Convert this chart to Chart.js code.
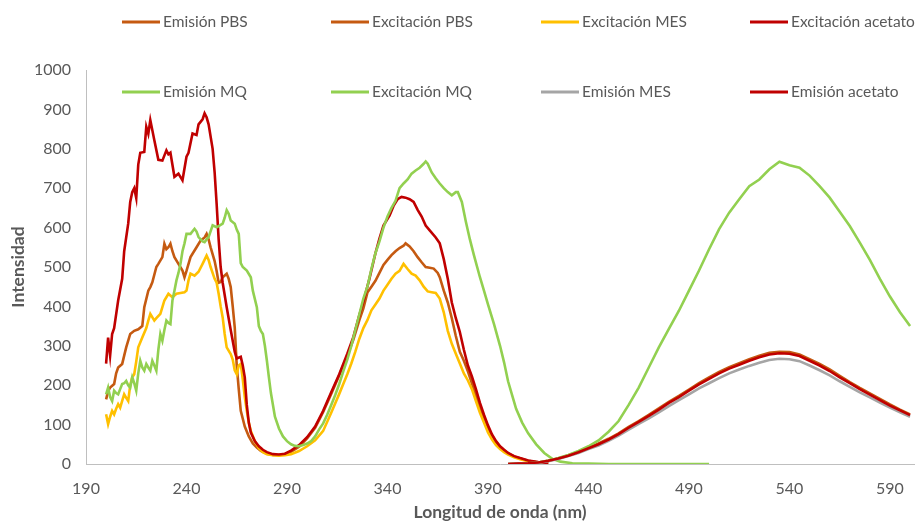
<!DOCTYPE html>
<html><head><meta charset="utf-8">
<script src="https://cdn.jsdelivr.net/npm/chart.js@4.4.0/dist/chart.umd.min.js"></script>
<style>html,body{margin:0;padding:0;background:#fff;}</style>
</head><body>
<canvas id="c" width="919" height="522"></canvas>
<script>
// ---- tick labels ----
const xTicks = [190, 240, 290, 340, 390, 440, 490, 540, 590];

// ---- series names ----
const seriesNames = ['Emisión PBS','Excitación PBS','Excitación MES','Excitación acetato','Emisión MQ','Excitación MQ','Emisión MES','Emisión acetato'];

// ---- excitation spectra [nm, intensity] ----
const excPBS = [[200,164],[201,185],[202,194],[204,203],[205,230],[206,245],[208,254],[209,275],[210,296],[212,330],[214,338],[216,342],[218,350],[219,398],[221,440],[222,449],[223,461],[225,500],[226,508],[228,525],[229,559],[230,545],[231,550],[232,559],[233,540],[234,525],[236,508],[238,491],[239,474],[240,490],[242,525],[245,550],[247,567],[249,575],[250,584],[251,570],[252,550],[254,515],[255,490],[256,460],[257,462],[258,474],[260,483],[261,470],[262,449],[263,400],[264,347],[265,250],[266,190],[267,135],[269,95],[271,70],[273,52],[275,42],[277,33],[280,26],[283,23],[286,23],[289,25],[292,31],[296,44],[300,65],[304,92],[308,132],[312,178],[316,225],[320,275],[323,315],[326,365],[328,395],[330,435],[332,450],[334,465],[336,485],[338,505],[340,518],[342,530],[344,540],[346,548],[348,554],[349,560],[351,552],[353,540],[355,525],[357,512],[359,500],[361,498],[363,496],[365,485],[366,474],[368,440],[370,410],[372,370],[374,325],[376,285],[378,262],[380,235],[382,205],[384,172],[386,142],[388,115],[390,92],[392,72],[394,56],[396,44],[398,35],[400,27],[403,19],[406,14],[410,8],[415,4],[420,2]];

const excMES = [[200,126],[201,101],[202,120],[203,135],[204,126],[205,140],[206,152],[207,143],[208,160],[209,177],[210,168],[211,160],[212,200],[213,220],[214,228],[215,260],[216,296],[218,321],[220,345],[221,364],[222,381],[224,364],[225,370],[227,381],[229,415],[231,432],[233,423],[235,432],[237,434],[239,436],[240,440],[241,466],[242,483],[244,478],[246,488],[248,508],[250,529],[251,518],[252,500],[254,470],[255,460],[256,432],[257,400],[258,372],[259,330],[260,296],[262,279],[263,265],[264,238],[265,228],[266,250],[267,254],[268,215],[269,170],[270,135],[271,105],[272,84],[274,58],[276,40],[278,30],[280,25],[283,22],[286,21],[289,22],[292,25],[296,33],[300,45],[304,60],[308,84],[312,130],[316,178],[318,203],[320,228],[322,255],[324,285],[326,318],[328,345],[330,365],[332,390],[334,405],[336,420],[338,440],[340,455],[342,470],[344,483],[346,490],[348,508],[350,495],[352,483],[354,478],[356,466],[358,450],[360,438],[362,436],[364,434],[366,420],[368,385],[370,338],[372,305],[374,280],[376,255],[378,230],[380,212],[382,190],[384,160],[386,130],[388,105],[390,80],[392,62],[394,48],[396,38],[398,30],[400,24],[403,17],[406,12],[410,7],[415,4],[420,2]];

const excAcetato = [[200,255],[201,321],[202,275],[203,330],[204,345],[206,415],[208,470],[209,540],[211,610],[212,665],[213,690],[214,700],[215,675],[216,760],[217,790],[219,792],[220,856],[221,838],[222,873],[224,822],[226,772],[228,770],[230,796],[231,786],[232,790],[234,729],[236,737],[238,720],[240,780],[241,790],[243,839],[245,835],[246,862],[248,875],[249,890],[250,880],[251,862],[253,800],[254,740],[255,660],[256,570],[257,500],[258,460],[260,398],[262,340],[264,285],[265,268],[267,272],[268,250],[269,220],[270,150],[271,105],[272,80],[274,58],[276,45],[278,36],[280,30],[283,25],[286,24],[289,26],[292,34],[296,48],[300,68],[304,95],[308,135],[312,182],[316,228],[320,280],[323,322],[326,378],[328,412],[331,470],[334,535],[336,572],[338,605],[341,630],[343,655],[345,672],[347,678],[349,676],[351,672],[353,665],[355,645],[357,628],[359,605],[361,593],[364,575],[366,560],[368,520],[370,470],[372,410],[374,370],[376,335],[378,290],[380,250],[382,222],[384,190],[386,155],[388,125],[390,98],[392,75],[394,58],[396,45],[398,36],[400,28],[403,20],[406,15],[410,9],[415,5],[420,2]];

const excMQ = [[200,177],[201,194],[202,170],[203,160],[204,186],[205,180],[206,177],[207,190],[208,203],[209,205],[210,211],[211,200],[212,194],[213,220],[214,205],[215,186],[216,230],[217,262],[218,245],[219,237],[220,254],[221,245],[222,237],[223,262],[224,250],[225,237],[226,290],[227,330],[228,313],[229,340],[230,364],[231,358],[232,355],[233,415],[234,440],[235,466],[236,485],[237,508],[238,540],[239,560],[240,584],[242,584],[244,597],[245,590],[246,576],[248,565],[249,563],[250,570],[251,576],[253,606],[255,601],[256,604],[258,610],[259,625],[260,644],[261,635],[262,618],[264,610],[265,595],[266,584],[267,510],[268,500],[270,491],[272,474],[273,440],[275,398],[276,350],[277,338],[278,330],[279,300],[280,262],[281,220],[282,180],[284,120],[286,90],[288,70],[290,58],[292,50],[294,46],[296,45],[298,48],[300,52],[302,58],[304,70],[306,88],[308,103],[310,125],[312,150],[314,175],[316,203],[318,235],[320,265],[322,300],[324,340],[326,380],[328,420],[330,450],[332,495],[334,535],[336,565],[338,600],[340,628],[342,650],[344,668],[346,700],[348,712],[350,722],[352,737],[354,745],[356,752],[358,762],[359,768],[360,762],[362,740],[364,725],[366,712],[368,700],[370,690],[372,682],[374,690],[375,690],[377,665],[379,615],[381,570],[383,530],[386,474],[388,440],[390,405],[393,355],[396,300],[398,258],[400,210],[402,175],[404,140],[407,105],[410,78],[414,50],[418,28],[422,13],[426,6],[432,2],[440,1],[450,0],[460,0],[470,0],[480,0],[490,0],[500,0]];

// ---- emission spectra (shared wavelength grid) ----
const emWl = [400,405,410,415,420,425,430,435,440,445,450,455,460,465,470,475,480,485,490,495,500,505,510,515,520,525,530,535,540,545,550,555,560,565,570,575,580,585,590,595,600];
const emPBS     = [0,1,2,4,8,14,22,31,41,52,64,78,94,109,125,141,158,173,189,205,220,234,246,256,266,275,282,285,284,278,266,254,240,224,208,193,179,165,151,138,126];
const emMES     = [0,1,2,3,7,13,20,28,38,47,59,72,87,102,116,131,147,162,177,192,205,218,230,240,249,257,264,267,266,261,250,238,225,210,196,182,169,156,143,131,120];
const emAcetato = [0,1,2,4,8,14,21,30,40,50,62,76,92,107,122,138,155,170,186,202,216,230,242,252,262,271,278,281,280,274,262,250,236,220,205,190,176,162,148,136,124];
const emMQ      = [0,1,2,4,9,15,23,33,45,60,82,109,150,194,245,296,343,389,440,491,545,596,638,672,705,722,748,767,758,752,732,705,676,640,604,562,518,470,425,385,350];

const colors = {
  pbs: '#C55A11', mes: '#FFC000', acet: '#C00000', mq: '#92D050', mesEm: '#A5A5A5'
};

const pairs = arr => arr.map(p => ({x: p[0], y: p[1]}));
const onGrid = vals => vals.map((v, i) => ({x: emWl[i], y: v}));

const legendItems = [
  {label: seriesNames[0], color: colors.pbs},
  {label: seriesNames[1], color: colors.pbs},
  {label: seriesNames[2], color: colors.mes},
  {label: seriesNames[3], color: colors.acet},
  {label: seriesNames[4], color: colors.mq},
  {label: seriesNames[5], color: colors.mq},
  {label: seriesNames[6], color: colors.mesEm},
  {label: seriesNames[7], color: colors.acet}
];

const mk = (label, data, color) => ({
  label, data, borderColor: color, backgroundColor: color,
  borderWidth: 2.6, pointRadius: 0, tension: 0, fill: false
});

// first dataset is drawn on top in Chart.js -> reverse of Excel series order
const datasets = [
  mk(seriesNames[7], onGrid(emAcetato), colors.acet),
  mk(seriesNames[6], onGrid(emMES), colors.mesEm),
  mk(seriesNames[5], pairs(excMQ), colors.mq),
  mk(seriesNames[4], onGrid(emMQ), colors.mq),
  mk(seriesNames[3], pairs(excAcetato), colors.acet),
  mk(seriesNames[2], pairs(excMES), colors.mes),
  mk(seriesNames[1], pairs(excPBS), colors.pbs),
  mk(seriesNames[0], onGrid(emPBS), colors.pbs)
];

const legendPlugin = {
  id: 'customLegend',
  afterDraw(chart) {
    const ctx = chart.ctx;
    const colX = [122, 331, 541, 750];
    const rowY = [22, 92];
    ctx.save();
    ctx.font = '15.5px Lato';
    ctx.textBaseline = 'middle';
    legendItems.forEach((it, i) => {
      const x = colX[i % 4], y = rowY[Math.floor(i / 4)];
      ctx.strokeStyle = it.color;
      ctx.lineWidth = 3;
      ctx.beginPath(); ctx.moveTo(x, y); ctx.lineTo(x + 38, y); ctx.stroke();
      ctx.fillStyle = '#595959';
      ctx.fillText(it.label, x + 41, y);
    });
    ctx.restore();
  }
};

const tickFont = {family: 'Lato', size: 16};
const titleFont = {family: 'Lato', size: 17.5, weight: 'bold'};

new Chart(document.getElementById('c'), {
  type: 'line',
  data: {datasets},
  options: {
    responsive: false,
    animation: false,
    devicePixelRatio: 1,
    parsing: false,
    normalized: true,
    layout: {padding: {top: 70, right: 4, left: 0, bottom: 0}},
    plugins: {legend: {display: false}, tooltip: {enabled: false}},
    scales: {
      x: {
        type: 'linear', min: 190, max: 602,
        afterBuildTicks: s => { s.ticks = xTicks.map(v => ({value: v})); },
        afterFit: s => { s.height = 58; },
        grid: {display: false, drawTicks: false},
        border: {display: true, color: '#BFBFBF', width: 1},
        ticks: {color: '#595959', font: tickFont, padding: 15, maxRotation: 0, autoSkip: false,
                callback: v => String(v)},
        title: {display: true, text: 'Longitud de onda (nm)', color: '#595959', font: titleFont, padding: {top: 0, bottom: -1}}
      },
      y: {
        min: 0, max: 1000,
        afterFit: s => { s.width = 86; },
        grid: {display: false, drawTicks: false},
        border: {display: true, color: '#BFBFBF', width: 1},
        ticks: {stepSize: 100, color: '#595959', font: tickFont, padding: 15, callback: v => String(v)},
        title: {display: true, text: 'Intensidad', color: '#595959', font: titleFont, padding: {top: 8, bottom: 0}}
      }
    }
  },
  plugins: [legendPlugin]
});
</script>
</body></html>
